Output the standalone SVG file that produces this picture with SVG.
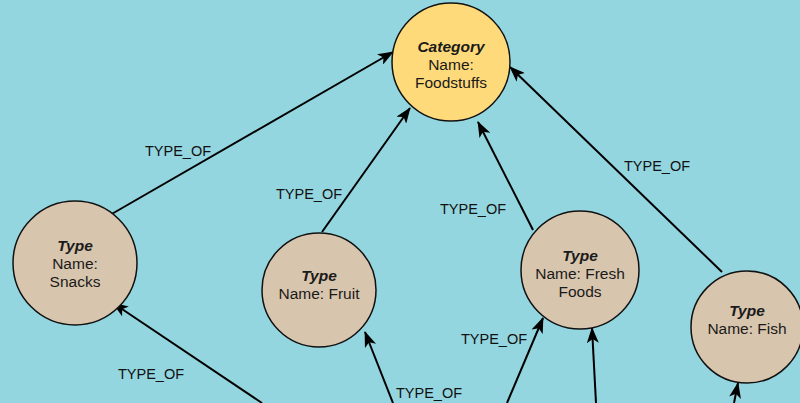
<svg xmlns="http://www.w3.org/2000/svg" width="800" height="403" viewBox="0 0 800 403">
  <style>
    .bg { fill: #94D6E0; }
    .cat { fill: #FFDA7B; stroke: #111; stroke-width: 1.5; }
    .typ { fill: #D8C5AD; stroke: #111; stroke-width: 1.5; }
    .t { font-family: "Liberation Sans", Arial, sans-serif; font-size: 15.5px; fill: #1a1a1a; text-anchor: middle; }
    .b { font-weight: bold; font-style: italic; }
    .lbl { font-family: "Liberation Sans", Arial, sans-serif; font-size: 14.5px; fill: #111; }
    .edge { stroke: #000; stroke-width: 2; fill: none; marker-end: url(#arrow); }
  </style>
  <defs>
    <marker id="arrow" viewBox="0 0 16 12" refX="15" refY="6" markerWidth="16" markerHeight="12" markerUnits="userSpaceOnUse" orient="auto">
      <path d="M0,0 L16,6 L0,12 L4,6 z" fill="#000"/>
    </marker>
  </defs>

  <rect class="bg" x="0" y="0" width="800" height="403"/>

  <g id="connectors">
    <line class="edge" x1="110" y1="215" x2="393" y2="52"/>
    <line class="edge" x1="322" y1="232" x2="410" y2="108"/>
    <line class="edge" x1="533" y1="230" x2="478" y2="122"/>
    <line class="edge" x1="722" y1="272" x2="510" y2="67"/>
    <line class="edge" x1="262" y1="403" x2="113" y2="303"/>
    <line class="edge" x1="393" y1="403" x2="365" y2="332"/>
    <line class="edge" x1="507" y1="403" x2="543" y2="318"/>
    <line class="edge" x1="596" y1="403" x2="592" y2="328"/>
    <line class="edge" x1="734" y1="403" x2="738" y2="383"/>
    <text class="lbl" x="145" y="156">TYPE_OF</text>
    <text class="lbl" x="276" y="199">TYPE_OF</text>
    <text class="lbl" x="440" y="214">TYPE_OF</text>
    <text class="lbl" x="624" y="171">TYPE_OF</text>
    <text class="lbl" x="118" y="379">TYPE_OF</text>
    <text class="lbl" x="396" y="398">TYPE_OF</text>
    <text class="lbl" x="461" y="344">TYPE_OF</text>
  </g>

  <g id="category-foodstuffs">
    <circle class="cat" cx="451" cy="62" r="59"/>
    <text class="t b" x="451" y="52">Category</text>
    <text class="t" x="451" y="70">Name:</text>
    <text class="t" x="451" y="88">Foodstuffs</text>
  </g>

  <g id="type-snacks">
    <circle class="typ" cx="75" cy="263" r="62"/>
    <text class="t b" x="75" y="251">Type</text>
    <text class="t" x="75" y="269">Name:</text>
    <text class="t" x="75" y="287">Snacks</text>
  </g>

  <g id="type-fruit">
    <circle class="typ" cx="319" cy="290" r="57"/>
    <text class="t b" x="319" y="281">Type</text>
    <text class="t" x="319" y="299">Name: Fruit</text>
  </g>

  <g id="type-fresh-foods">
    <circle class="typ" cx="580" cy="270" r="59"/>
    <text class="t b" x="580" y="261">Type</text>
    <text class="t" x="580" y="279">Name: Fresh</text>
    <text class="t" x="580" y="297">Foods</text>
  </g>

  <g id="type-fish">
    <circle class="typ" cx="747" cy="327" r="56"/>
    <text class="t b" x="747" y="316">Type</text>
    <text class="t" x="747" y="334">Name: Fish</text>
  </g>
</svg>
